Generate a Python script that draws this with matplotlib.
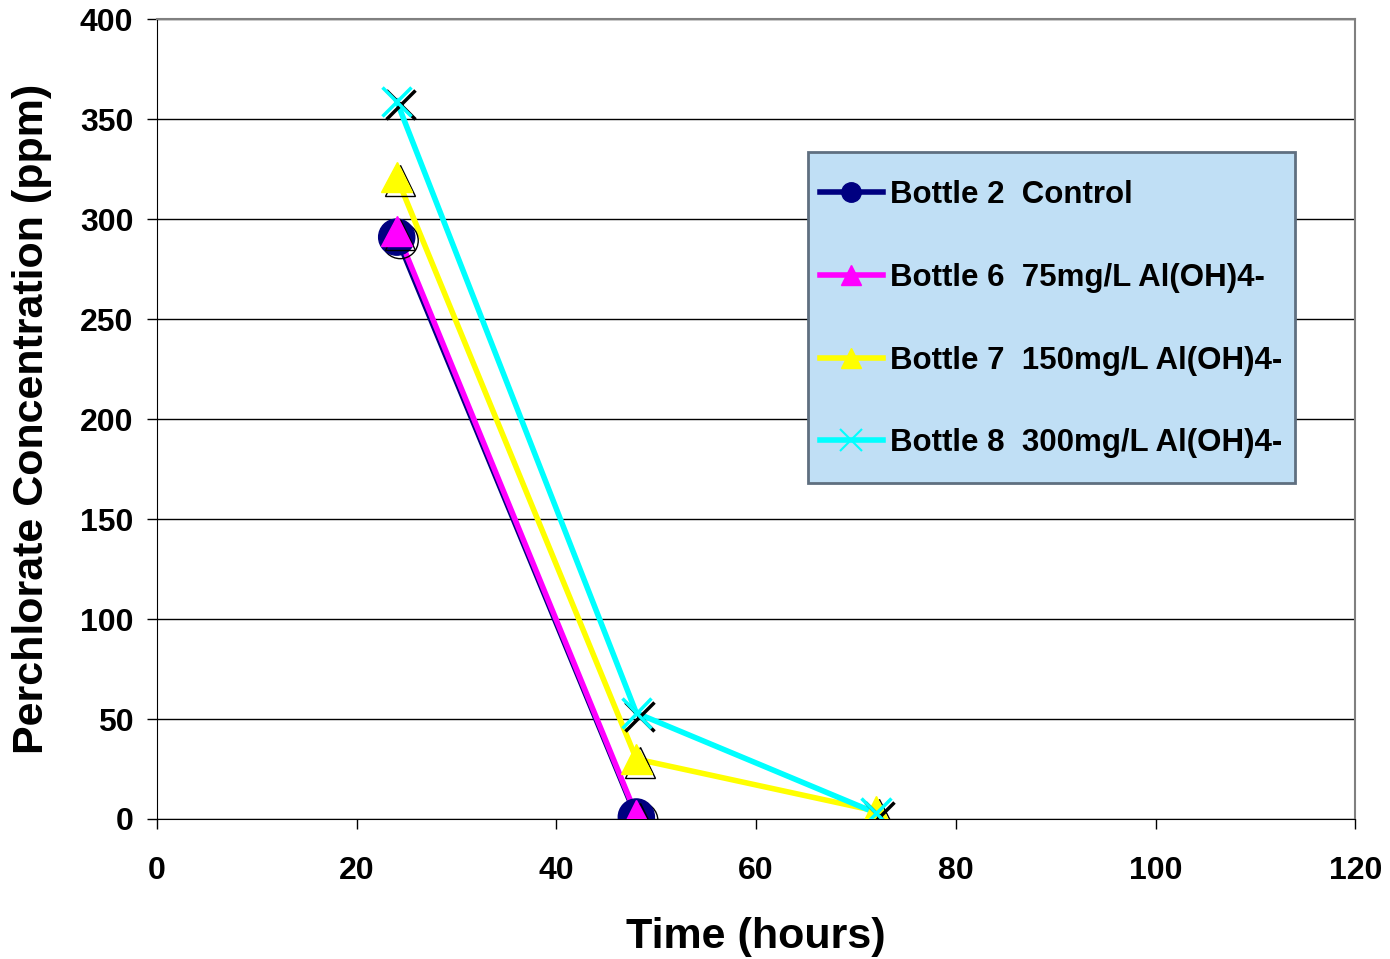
import matplotlib.pyplot as plt
import matplotlib.patheffects as pe
from matplotlib.patches import Rectangle

plt.rcParams["font.family"] = ["Liberation Sans", "DejaVu Sans"]
plt.rcParams["font.weight"] = "bold"

hours = [24, 48, 72]
bottle2 = [291, 1]
bottle6 = [294, 2]
bottle7 = [321, 30, 4]
bottle8 = [359, 53, 3]

series = [
    ("Bottle 2  Control", bottle2, "#000080", "o", 26, 14),
    ("Bottle 6  75mg/L Al(OH)4-", bottle6, "#ff00ff", "^", 22, 15),
    ("Bottle 7  150mg/L Al(OH)4-", bottle7, "#ffff00", "^", 22, 15),
    ("Bottle 8  300mg/L Al(OH)4-", bottle8, "#00ffff", "x", 21, 16),
]

fig = plt.figure(figsize=(13.9, 9.59), dpi=100)
ax = fig.add_axes([0.113, 0.146, 0.862, 0.834])

shadow = [pe.SimpleLineShadow(offset=(2.5, -2.5), shadow_color="black", alpha=1.0), pe.Normal()]
for name, vals, col, mk, ms, lms in series:
    x = hours[:len(vals)]
    ax.plot(x, vals, color=col, lw=4, zorder=3)
    ax.plot(x, vals, ls="none", marker=mk, ms=ms, color=col, mec=col,
            mew=2.5 if mk == "x" else 1, zorder=4, path_effects=shadow)
    ax.plot([], [], color=col, lw=4, marker=mk, ms=lms, mec=col,
            mew=1.5 if mk == "x" else 1, label=name)

ax.set_xlim(0, 120)
ax.set_ylim(0, 400)
ax.set_xticks(range(0, 121, 20))
ax.set_yticks(range(0, 401, 50))
ax.grid(axis="y", color="black", lw=1)
ax.set_axisbelow(True)
for s in ("top", "right"):
    ax.spines[s].set_color("#808080")
    ax.spines[s].set_linewidth(1.5)
for s in ("left", "bottom"):
    ax.spines[s].set_color("black")
ax.tick_params(direction="out", length=7, width=1, labelsize=23)
ax.tick_params(axis="x", pad=20)
ax.tick_params(axis="y", pad=10)
for t in ax.get_xticklabels() + ax.get_yticklabels():
    t.set_fontweight("bold")

ax.set_xlabel("Time (hours)", fontsize=31, fontweight="bold", labelpad=22)
ax.set_ylabel("Perchlorate Concentration (ppm)", fontsize=31, fontweight="bold", labelpad=20)

# legend box drawn separately so the padding matches
ax.add_patch(Rectangle((0.5434, 0.42), 0.4065, 0.414, transform=ax.transAxes,
                       facecolor="#c0dff5", edgecolor="#5f6f80", lw=2, zorder=5))
leg = ax.legend(loc="upper left", bbox_to_anchor=(0.5534, 0.799), frameon=False,
                prop={"weight": "bold", "size": 22.5},
                labelspacing=1.69, handlelength=2.0, handletextpad=0.25,
                borderpad=0, borderaxespad=0)
leg.set_zorder(6)

fig.savefig("out.png", dpi=100)
